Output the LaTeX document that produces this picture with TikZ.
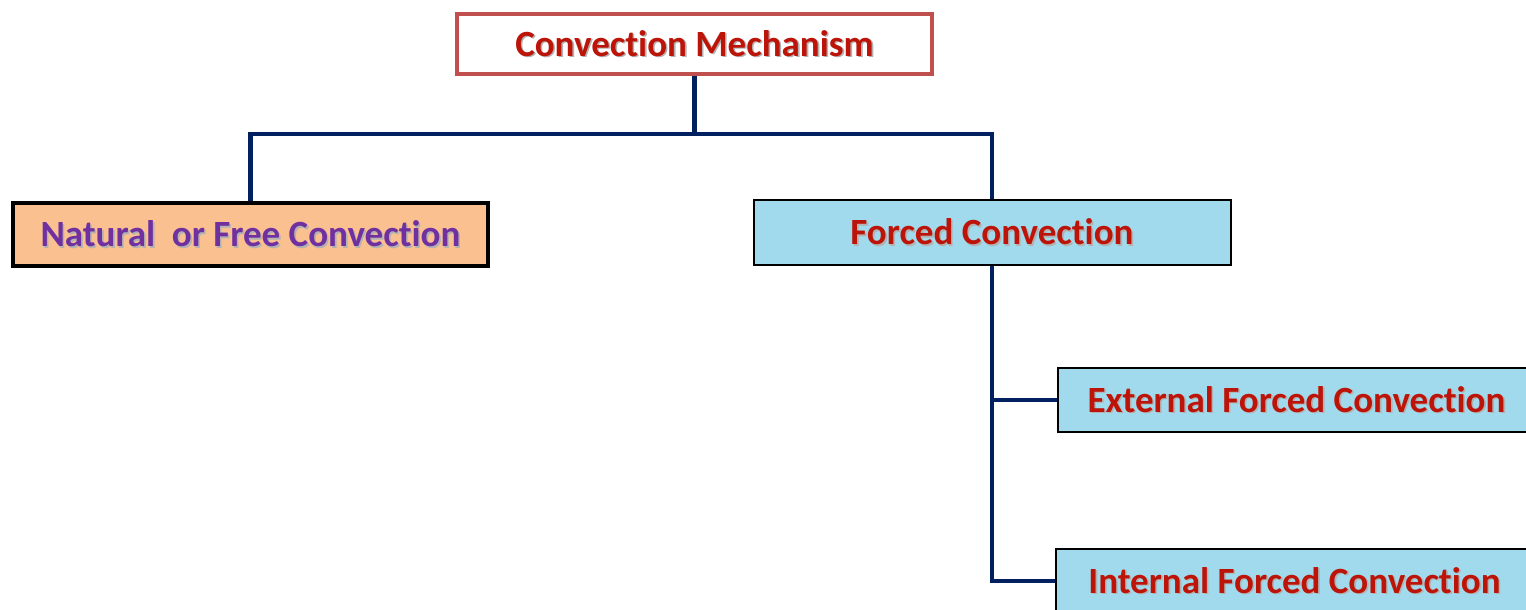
\documentclass[tikz,border=0pt]{standalone}
\usepackage{fontspec}
\setmainfont{Carlito}[Ligatures=NoCommon]
\usepackage{xcolor}
\usetikzlibrary{positioning}

\definecolor{boxred}{HTML}{C0504D}
\definecolor{textred}{HTML}{BC1408}
\definecolor{peach}{HTML}{FAC090}
\definecolor{textpurple}{HTML}{7030A0}
\definecolor{skyblue}{HTML}{A0DAEC}
\definecolor{navy}{HTML}{002060}

% text with a soft grey shadow
\newcommand{\shadowed}[1]{\rlap{\hspace{1.6bp}\raisebox{-1.6bp}{\textcolor{black!30}{#1}}}#1}

\begin{document}
\begin{tikzpicture}[x=1bp, y=-1bp,
        every node/.style={font=\fontsize{37bp}{44bp}\selectfont\bfseries, inner sep=0pt},
        rootbox/.style={draw=boxred, line width=4bp, fill=white, text=textred, minimum width=475bp, minimum height=60bp},
        freebox/.style={draw=black, line width=4bp, fill=peach, text=textpurple, minimum width=475bp, minimum height=63bp},
        forcedbox/.style={draw=black, line width=2bp, fill=skyblue, text=textred, minimum width=477bp, minimum height=64bp},
        link/.style={draw=navy, line width=4.5bp}]
    \useasboundingbox (0,0) rectangle (1526,610);
    \clip (0,0) rectangle (1526,610);

    \node[rootbox] (mechanism) at (694.5,44) {\shadowed{Convection Mechanism}};
    \node[freebox] (natural) at (250.5,234.5) {\shadowed{Natural\ \ or Free Convection}};
    \node[forcedbox] (forced) at (992,232.5) {\shadowed{Forced Convection}};
    \node[forcedbox] (external) at (1296.5,400) {\shadowed{External Forced Convection}};
    \node[forcedbox] (internal) at (1294.5,581) {\shadowed{Internal Forced Convection}};

    \coordinate (split) at (694.5,134);

    \draw[link] (mechanism.south) -- (split);
    \draw[link] (natural.north) |- (split) -| (forced.north);
    \draw[link] (forced.south) |- (internal.west);
    \draw[link] (forced.south |- external.west) -- (external.west);
\end{tikzpicture}
\end{document}
